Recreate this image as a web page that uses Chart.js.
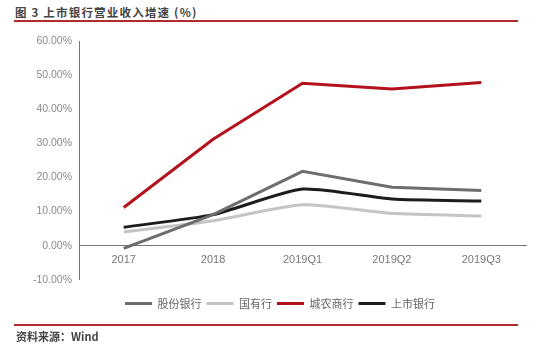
<!DOCTYPE html>
<html>
<head>
<meta charset="utf-8">
<script src="https://cdn.jsdelivr.net/npm/chart.js@4"></script>
<style>
    body { margin: 0; background: #fff; width: 548px; height: 345px; overflow: hidden; position: relative; font-family: "Noto Sans CJK SC", sans-serif; }
    #title { position: absolute; left: 15px; top: 4px; font-size: 11.5px; font-weight: bold; color: #444; letter-spacing: 1.2px; }
    .rule { position: absolute; left: 14px; width: 504px; height: 2px; background: #b22a2e; }
    #source { position: absolute; left: 16px; top: 328px; font-size: 11px; color: #444; font-weight: bold; }
    #wrap { position: absolute; left: 0; top: 0; width: 548px; height: 345px; }
</style>
</head>
<body>
<div id="title">图 3 上市银行营业收入增速 (%)</div>
<div class="rule" style="top:20px"></div>
<div id="wrap"><canvas id="growthChart"></canvas></div>
<div class="rule" style="top:324px"></div>
<div id="source">资料来源：Wind</div>
<script>
// Categories and revenue growth rates (%)
const periods = ['2017', '2018', '2019Q1', '2019Q2', '2019Q3'];
const jointStock = [-0.8, 9.1, 21.8, 17.1, 16.2];
const stateOwned = [4.0, 7.3, 12.0, 9.5, 8.7];
const cityRural = [11.2, 31.2, 47.6, 45.9, 47.8];
const listedBanks = [5.4, 9.1, 16.6, 13.7, 13.1];
const yTicks = [-10, 0, 10, 20, 30, 40, 50, 60];

function makeSeries(label, data, color, tension) {
    return {
        label: label,
        data: data,
        borderColor: color,
        backgroundColor: color,
        borderWidth: 3,
        pointRadius: 0,
        tension: tension,
        fill: false
    };
}

// nudge the legend row a little to the right of the canvas centre
const legendShift = {
    id: 'legendShift',
    afterLayout(chart) {
        chart.legend.left += 17;
        chart.legend.right += 17;
    }
};

const ctx = document.getElementById('growthChart').getContext('2d');
new Chart(ctx, {
    type: 'line',
    data: {
        labels: periods,
        datasets: [
            makeSeries('股份银行', jointStock, '#6d6d6d', 0),
            makeSeries('国有行', stateOwned, '#c4c4c4', 0.2),
            makeSeries('城农商行', cityRural, '#b3121d', 0),
            makeSeries('上市银行', listedBanks, '#1c1c1c', 0.2)
        ]
    },
    plugins: [legendShift],
    options: {
        responsive: true,
        maintainAspectRatio: false,
        animation: false,
        layout: { padding: { top: 41, right: 22, bottom: 26, left: 0 } },
        plugins: {
            tooltip: { enabled: false },
            legend: {
                position: 'bottom',
                // blank title only opens a gap between the plot and the legend row
                title: { display: true, text: ' ', font: { size: 11 }, padding: 0 },
                labels: {
                    usePointStyle: true,
                    pointStyle: 'line',
                    pointStyleWidth: 27,
                    boxHeight: 3,
                    padding: 5,
                    color: '#666',
                    font: { family: '"Noto Sans CJK SC"', size: 11 }
                }
            }
        },
        scales: {
            x: {
                position: { y: 0 },
                offset: true,
                grid: { display: false, drawTicks: false },
                border: { color: '#777', width: 1 },
                ticks: { color: '#777', padding: 8, font: { family: 'Arial, "Liberation Sans"', size: 11 } }
            },
            y: {
                min: -10,
                max: 60,
                afterBuildTicks: scale => { scale.ticks = yTicks.map(v => ({ value: v })); },
                afterFit: scale => { scale.width = 79; },
                grid: { display: false, drawTicks: false },
                border: { color: '#777', width: 1 },
                ticks: {
                    color: '#8a8a8a',
                    padding: 7,
                    font: { family: 'Arial, "Liberation Sans"', size: 10.5 },
                    callback: v => v.toFixed(2) + '%'
                }
            }
        }
    }
});
</script>
</body>
</html>
